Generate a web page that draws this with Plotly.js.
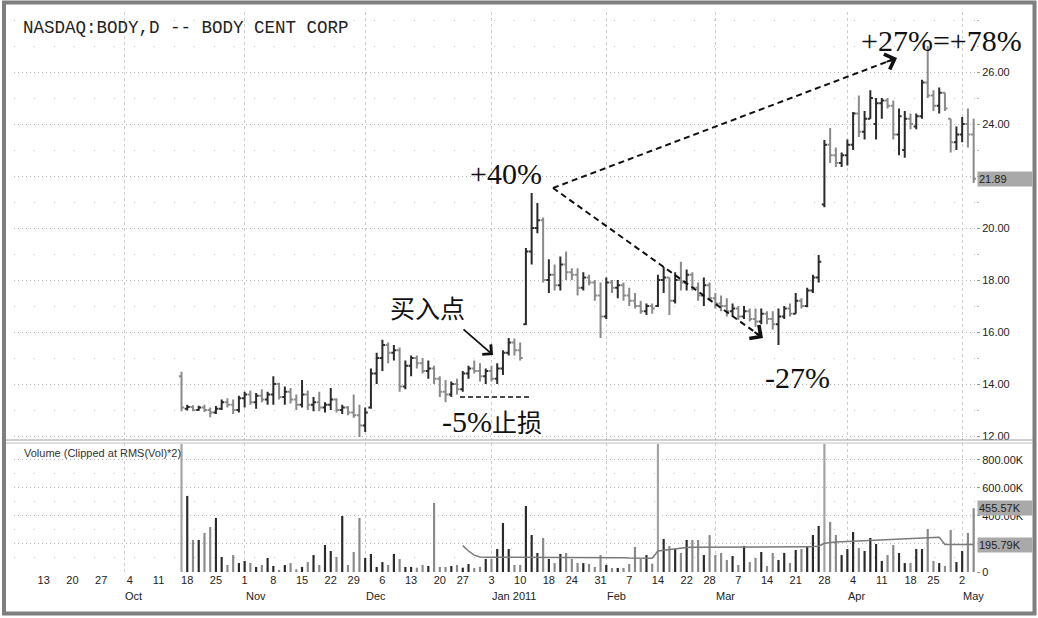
<!DOCTYPE html>
<html><head><meta charset="utf-8">
<script src="https://cdn.plot.ly/plotly-3.0.1.min.js"></script>
<style>html,body{margin:0;padding:0;background:#fff;}#chart{width:1038px;height:618px;}</style>
</head><body><div id="chart"></div>
<script>
const dates = [
'2010-10-15','2010-10-18','2010-10-19','2010-10-20','2010-10-21','2010-10-22','2010-10-25','2010-10-26','2010-10-27','2010-10-28','2010-10-29',
'2010-11-01','2010-11-02','2010-11-03','2010-11-04','2010-11-05','2010-11-08','2010-11-09','2010-11-10','2010-11-11','2010-11-12',
'2010-11-15','2010-11-16','2010-11-17','2010-11-18','2010-11-19','2010-11-22','2010-11-23','2010-11-24','2010-11-26','2010-11-29','2010-11-30',
'2010-12-01','2010-12-02','2010-12-03','2010-12-06','2010-12-07','2010-12-08','2010-12-09','2010-12-10','2010-12-13','2010-12-14','2010-12-15',
'2010-12-16','2010-12-17','2010-12-20','2010-12-21','2010-12-22','2010-12-23','2010-12-27','2010-12-28','2010-12-29','2010-12-30','2010-12-31',
'2011-01-03','2011-01-04','2011-01-05','2011-01-06','2011-01-07','2011-01-10','2011-01-11','2011-01-12','2011-01-13','2011-01-14',
'2011-01-18','2011-01-19','2011-01-20','2011-01-21','2011-01-24','2011-01-25','2011-01-26','2011-01-27','2011-01-28','2011-01-31',
'2011-02-01','2011-02-02','2011-02-03','2011-02-04','2011-02-07','2011-02-08','2011-02-09','2011-02-10','2011-02-11',
'2011-02-14','2011-02-15','2011-02-16','2011-02-17','2011-02-18','2011-02-22','2011-02-23','2011-02-24','2011-02-25','2011-02-28',
'2011-03-01','2011-03-02','2011-03-03','2011-03-04','2011-03-07','2011-03-08','2011-03-09','2011-03-10','2011-03-11',
'2011-03-14','2011-03-15','2011-03-16','2011-03-17','2011-03-18','2011-03-21','2011-03-22','2011-03-23','2011-03-24','2011-03-25',
'2011-03-28','2011-03-29','2011-03-30','2011-03-31','2011-04-01','2011-04-04','2011-04-05','2011-04-06','2011-04-07','2011-04-08',
'2011-04-11','2011-04-12','2011-04-13','2011-04-14','2011-04-15','2011-04-18','2011-04-19','2011-04-20','2011-04-21',
'2011-04-25','2011-04-26','2011-04-27','2011-04-28','2011-04-29','2011-05-02','2011-05-03','2011-05-04'];

const openP = [14.30,13.05,13.12,13.00,13.10,13.00,12.90,13.05,13.30,13.20,13.00,
13.45,13.60,13.30,13.55,13.40,13.60,14.00,13.50,13.70,13.40,
13.20,13.60,13.20,13.30,13.10,13.20,13.40,13.00,13.10,12.90,12.80,
12.40,13.10,14.40,15.00,15.50,15.20,15.30,13.90,14.70,15.00,14.80,
14.50,14.60,14.20,13.70,13.60,14.00,13.80,14.40,14.60,14.50,14.30,
14.50,14.20,14.60,15.20,15.60,15.30,16.30,19.10,20.00,20.30,
18.00,18.20,17.80,18.60,18.30,18.20,17.70,18.10,17.90,17.40,
16.60,17.90,17.70,17.80,17.40,17.20,17.00,16.80,17.00,
17.00,18.00,18.10,17.20,18.00,17.90,18.20,17.70,17.40,17.80,
17.30,17.10,17.00,16.80,16.90,16.60,16.80,16.50,16.40,
16.70,16.50,16.30,16.60,16.90,16.70,17.20,17.00,17.60,18.10,
20.90,23.20,22.80,22.50,22.80,23.20,24.40,23.70,24.20,24.00,
24.80,24.90,24.70,23.60,23.00,24.20,23.90,24.30,25.60,
25.10,24.70,25.20,24.20,23.30,23.60,24.00,23.60];
const highP = [14.47,13.20,13.18,13.16,13.20,13.10,13.15,13.40,13.45,13.40,13.55,
13.70,13.75,13.65,13.80,13.70,14.30,14.05,13.90,13.85,13.60,
14.15,13.75,13.50,13.70,13.30,13.85,13.45,13.20,13.15,13.60,13.20,
13.10,14.60,15.20,15.70,15.60,15.50,15.40,14.90,15.10,15.10,15.00,
14.90,14.70,14.30,14.15,14.10,14.20,14.50,14.70,14.90,14.80,14.60,
14.70,14.80,15.30,15.77,15.75,15.60,19.23,21.35,20.96,20.40,
18.80,18.60,18.90,19.10,18.45,18.45,18.30,18.20,18.00,17.90,
18.10,18.00,18.00,17.90,17.70,17.50,17.20,17.10,17.10,
18.20,18.50,18.10,18.30,18.70,18.40,18.30,17.90,18.10,17.90,
17.50,17.40,17.30,17.10,17.00,17.00,16.90,16.90,16.90,
16.80,16.80,16.90,17.00,17.10,17.50,17.30,17.70,18.20,18.96,
23.38,23.85,23.10,22.90,23.40,24.46,25.10,24.50,25.30,25.00,
25.00,25.00,24.90,24.60,24.50,24.40,24.40,25.70,27.00,
25.30,25.40,25.20,24.20,23.90,24.27,24.60,24.20];
const lowP = [12.95,12.98,12.95,12.97,12.92,12.72,12.85,13.00,13.10,12.85,12.90,
13.10,13.20,13.05,13.30,13.20,13.20,13.40,13.20,13.25,13.00,
13.10,13.00,12.95,12.95,12.90,13.00,12.90,12.85,12.80,12.70,11.96,
12.15,13.05,14.00,14.50,14.80,14.90,13.70,13.80,14.30,14.60,14.40,
14.20,14.00,13.50,13.30,13.50,13.60,13.70,14.20,14.40,14.10,14.00,
14.10,14.00,14.35,15.10,15.10,14.90,16.27,18.60,19.80,17.90,
17.50,17.60,17.60,18.00,18.00,17.40,17.60,17.80,17.20,15.77,
16.50,17.50,17.30,17.20,17.00,16.90,16.70,16.65,16.70,
16.96,17.50,16.65,17.10,17.60,17.60,17.60,17.20,17.00,17.20,
16.90,16.80,16.60,16.60,16.46,16.50,16.40,16.20,16.30,
16.30,16.10,15.50,16.50,16.60,16.70,16.90,16.95,17.50,17.90,
20.80,22.50,22.35,22.35,22.40,23.00,23.50,23.40,24.20,23.40,
24.20,24.60,23.40,22.80,22.70,23.80,23.80,24.20,25.00,
24.50,24.40,24.50,22.90,23.00,23.30,23.10,21.73];
const closeP = [13.10,13.12,13.00,13.10,13.00,12.90,13.05,13.30,13.20,13.00,13.45,
13.60,13.30,13.55,13.40,13.60,14.00,13.50,13.70,13.40,13.20,
13.60,13.20,13.30,13.10,13.20,13.40,13.00,13.10,12.90,12.80,12.40,
12.90,14.40,15.00,15.50,15.20,15.30,13.90,14.70,15.00,14.80,14.50,
14.60,14.20,13.70,13.60,14.00,13.80,14.40,14.60,14.50,14.30,14.50,
14.20,14.60,15.20,15.60,15.30,15.00,19.10,20.00,20.30,18.00,
18.20,17.80,18.60,18.30,18.20,17.70,18.10,17.90,17.40,16.60,
17.90,17.70,17.80,17.40,17.20,17.00,16.80,17.00,16.90,
18.00,18.10,17.20,18.00,17.90,18.20,17.70,17.40,17.80,17.30,
17.10,17.00,16.80,16.90,16.60,16.80,16.50,16.40,16.70,
16.50,16.30,16.60,16.90,16.70,17.20,17.00,17.60,18.10,18.70,
23.20,22.80,22.50,22.80,23.20,24.40,23.70,24.20,25.00,24.80,
24.90,24.70,23.60,24.30,24.20,24.00,24.30,25.60,25.10,
24.70,25.20,24.60,23.30,23.60,24.00,23.60,21.89];

const volume = [915000,543000,229000,229000,279000,321000,386000,107000,50000,121000,64000,
79000,64000,36000,50000,100000,43000,14000,50000,64000,20000,
36000,71000,121000,50000,193000,150000,107000,400000,50000,143000,386000,
100000,129000,36000,71000,50000,129000,93000,36000,36000,31000,50000,
43000,493000,36000,36000,43000,50000,31000,57000,29000,36000,93000,
93000,164000,350000,164000,50000,50000,471000,264000,136000,243000,
93000,64000,129000,136000,93000,64000,64000,57000,36000,121000,
50000,29000,29000,29000,57000,179000,93000,121000,60000,
915000,236000,186000,164000,136000,229000,229000,229000,121000,264000,
121000,136000,86000,114000,50000,186000,71000,100000,143000,
43000,136000,86000,136000,64000,157000,164000,179000,264000,329000,
915000,357000,264000,121000,164000,286000,171000,150000,243000,200000,
79000,121000,193000,136000,64000,64000,164000,164000,307000,
79000,64000,43000,300000,71000,150000,279000,455570];

// 50-day average volume line, drawn from dates[49] onward
const volMA = [188000,150000,120000,107000,105000,105000,105000,106000,106000,105000,
105000,106000,106000,106000,106000,105000,105000,105000,105000,104000,
104000,104000,104000,103000,103000,103000,103000,102000,102000,100000,
100000,99000,99000,98000,150000,156000,162000,168000,172000,175000,
176000,176000,177000,177000,177000,177000,177000,177000,177000,177000,
178000,178000,178000,178000,178000,178000,178000,179000,179000,180000,
181000,182000,184000,205000,212000,214000,216000,218000,221000,224000,
226000,229000,231000,233000,235000,237000,239000,241000,243000,245000,
247000,249000,250000,248000,197000,196000,196000,196000,196000,195790];

const weekTickDates = ['2010-09-13','2010-09-20','2010-09-27','2010-10-04','2010-10-11','2010-10-18','2010-10-25',
'2010-11-01','2010-11-08','2010-11-15','2010-11-22','2010-11-29','2010-12-06','2010-12-13','2010-12-20','2010-12-27',
'2011-01-03','2011-01-10','2011-01-18','2011-01-24','2011-01-31','2011-02-07','2011-02-14','2011-02-22','2011-02-28',
'2011-03-07','2011-03-14','2011-03-21','2011-03-28','2011-04-04','2011-04-11','2011-04-18','2011-04-25','2011-05-02'];
const weekTickText = ['13','20','27','4','11','18','25','1','8','15','22','29','6','13','20','27',
'3','10','18','24','31','7','14','22','28','7','14','21','28','4','11','18','25','2'];
const monthDates = ['2010-10-01','2010-11-01','2010-12-01','2011-01-03','2011-02-01','2011-03-01','2011-04-01','2011-05-02'];
const monthNames = ['Oct','Nov','Dec','Jan 2011','Feb','Mar','Apr','May'];
const holidays = ['2010-09-06','2010-11-25','2010-12-24','2011-01-17','2011-02-21','2011-04-22'];
const priceTicks = [12, 14, 16, 18, 20, 22, 24, 26];
const priceTickText = ['12.00', '14.00', '16.00', '18.00', '20.00', '', '24.00', '26.00'];
const volTicks = [0, 200000, 400000, 600000, 800000];
const volTickText = ['0', '', '400.00K', '600.00K', '800.00K'];
const priceTitle = 'NASDAQ:BODY,D -- BODY CENT CORP';
const volumeTitle = 'Volume (Clipped at RMS(Vol)*2)';

const noon = d => d + ' 12:00';
const xs = dates.map(noon);
const maX = xs.slice(xs.length - volMA.length);
const DARK = '#2b2b2b', GRAY = '#8a8a8a';
const volColors = volume.map((v, i) => v >= 900000 ? '#a3a3a3' : (closeP[i] >= openP[i] ? DARK : GRAY));

// pixel -> paper helpers for decorations (plot area: x 14..976, y 12..572)
const PL = 14, PR = 976, PT = 12, PB = 572;
const px = p => (p - PL) / (PR - PL);
const py = p => (PB - p) / (PB - PT);

const rb = [{bounds: ['sat', 'mon']}, {values: holidays}];
const xRange = ['2010-09-03 07:41', '2011-05-04 21:50'];
const tickFont = {family: 'Liberation Sans, Arial, sans-serif', size: 11, color: '#222'};

const xCommon = {
  type: 'date', range: xRange, rangebreaks: rb,
  tickmode: 'array', tickvals: weekTickDates.map(noon), ticktext: weekTickText,
  ticks: '', showgrid: false, zeroline: false, showline: false,
  tickfont: tickFont, rangeslider: {visible: false},
  minor: {tickmode: 'array', tickvals: monthDates.map(noon), showgrid: true,
          gridcolor: '#cccccc', gridwidth: 1, griddash: 'dot', ticks: ''}
};

const traces = [
  {type: 'ohlc', x: xs, open: openP, high: highP, low: lowP, close: closeP,
   xaxis: 'x', yaxis: 'y', tickwidth: 0.45, hoverinfo: 'skip',
   increasing: {line: {color: DARK, width: 2}},
   decreasing: {line: {color: GRAY, width: 2}}},
  {type: 'bar', x: xs, y: volume, xaxis: 'x2', yaxis: 'y2',
   width: 0.38 * 86400000, marker: {color: volColors, line: {width: 0}}, hoverinfo: 'skip'},
  {type: 'scatter', mode: 'lines', x: maX, y: volMA, xaxis: 'x2', yaxis: 'y2',
   line: {color: '#7a7a7a', width: 1.5}, hoverinfo: 'skip'}
];

const serif = {family: 'Liberation Serif, Times New Roman, serif', size: 30, color: '#111'};
const cjk = {family: 'Noto Sans CJK SC, sans-serif', size: 25, color: '#111'};
const lastClose = closeP[closeP.length - 1];
const lastVol = volume[volume.length - 1];
const lastMA = volMA[volMA.length - 1];
const boxFont = {family: 'Liberation Sans, Arial, sans-serif', size: 11, color: '#222'};

function label(xp, yp, text, font, extra) {
  return Object.assign({xref: 'paper', yref: 'paper', x: px(xp), y: py(yp), xanchor: 'center', yanchor: 'middle',
    showarrow: false, text: text, font: font}, extra || {});
}
function arrowHead(xp, yp, ax, ay, size, w) {
  return {xref: 'paper', yref: 'paper', x: px(xp), y: py(yp), ax: ax, ay: ay, text: '', showarrow: true,
    arrowhead: 4, arrowsize: size, arrowwidth: w, arrowcolor: '#111', standoff: 0};
}
function valueBox(yref, y, text) {
  return {xref: 'paper', yref: yref, x: 1, y: y, xanchor: 'left', yanchor: 'middle', xshift: 1, showarrow: false,
    text: text, bgcolor: '#a9a9a9', font: boxFont, width: 52, align: 'left', borderpad: 1};
}

const annotations = [
  label(21, 28, priceTitle, {family: 'Liberation Mono, Courier New, monospace', size: 17.5, color: '#222'}, {xanchor: 'left'}),
  label(22, 453, volumeTitle, {family: 'Liberation Sans, Arial, sans-serif', size: 11, color: '#333'}, {xanchor: 'left'}),
  label(506, 174, '+40%', serif),
  label(941, 40, '+27%=+78%', serif),
  label(797, 377, '-27%', serif),
  label(427, 307, '买入点', cjk),
  label(492, 421, '<span style="font-family:Liberation Serif;font-size:30px">-5%</span>止损', cjk),
  arrowHead(897, 58, -12, 4.5, 1.6, 2),
  arrowHead(763, 338, -10, -7, 1.6, 2),
  arrowHead(493, 355, -31, -27, 1.4, 1.8),
  valueBox('y', lastClose, lastClose.toFixed(2)),
  valueBox('y2', lastVol, (lastVol / 1000).toFixed(2) + 'K'),
  valueBox('y2', lastMA, (lastMA / 1000).toFixed(2) + 'K')
];
monthDates.forEach((d, i) => annotations.push({
  xref: 'x2', yref: 'paper', x: noon(d), y: py(596), xanchor: 'left', yanchor: 'middle', xshift: -1,
  showarrow: false, text: monthNames[i], font: tickFont}));

const shapes = [
  {type: 'rect', xref: 'paper', yref: 'paper', x0: px(4), x1: px(1034.5), y0: py(613.5), y1: py(2.5),
   line: {color: '#7f7f7f', width: 4}, layer: 'above'},
  {type: 'line', xref: 'paper', yref: 'paper', x0: px(6), x1: px(1033), y0: py(440), y1: py(440),
   line: {color: '#a0a0a0', width: 1}},
  {type: 'line', xref: 'paper', yref: 'paper', x0: px(6), x1: px(1033), y0: py(443), y1: py(443),
   line: {color: '#c0c0c0', width: 1}},
  {type: 'line', xref: 'paper', yref: 'paper', x0: px(553), y0: py(188), x1: px(893), y1: py(59.5),
   line: {color: '#111', width: 2, dash: '6px,4px'}, layer: 'above'},
  {type: 'line', xref: 'paper', yref: 'paper', x0: px(553), y0: py(188), x1: px(759), y1: py(335),
   line: {color: '#111', width: 2, dash: '6px,4px'}, layer: 'above'},
  {type: 'line', xref: 'paper', yref: 'paper', x0: px(460), y0: py(397), x1: px(532), y1: py(397),
   line: {color: '#111', width: 1.5, dash: '5px,3px'}, layer: 'above'}
];

const layout = {
  width: 1038, height: 618,
  margin: {l: PL, r: 1038 - PR, t: PT, b: 618 - PB},
  paper_bgcolor: '#fff', plot_bgcolor: '#fff',
  showlegend: false, hovermode: false, dragmode: false,
  xaxis: Object.assign({}, xCommon, {anchor: 'y', showticklabels: false, matches: 'x2'}),
  xaxis2: Object.assign({}, xCommon, {anchor: 'y2'}),
  yaxis: {domain: [py(440), 1], range: [11.846, 28.308], side: 'right',
    tickmode: 'array', tickvals: priceTicks, ticktext: priceTickText,
    ticks: 'outside', ticklen: 3, tickcolor: '#999', tickfont: tickFont,
    gridcolor: '#b5b5b5', griddash: '1px,3px', zeroline: false, showline: false,
    minor: {dtick: 1, showgrid: true, gridcolor: '#c4c4c4', griddash: '1px,19px', ticks: 'outside', ticklen: 2, tickcolor: '#bbb'}},
  yaxis2: {domain: [0, py(443)], range: [0, 921000], side: 'right',
    tickmode: 'array', tickvals: volTicks, ticktext: volTickText,
    ticks: 'outside', ticklen: 3, tickcolor: '#999', tickfont: tickFont,
    gridcolor: '#b5b5b5', griddash: '1px,3px', zeroline: false, showline: false,
    minor: {tickmode: 'array', tickvals: [100000, 300000, 500000, 700000], showgrid: true,
            gridcolor: '#c4c4c4', griddash: '1px,19px', ticks: ''}},
  annotations: annotations,
  shapes: shapes
};

Plotly.newPlot('chart', traces, layout, {staticPlot: true, displayModeBar: false});
</script>
</body></html>
